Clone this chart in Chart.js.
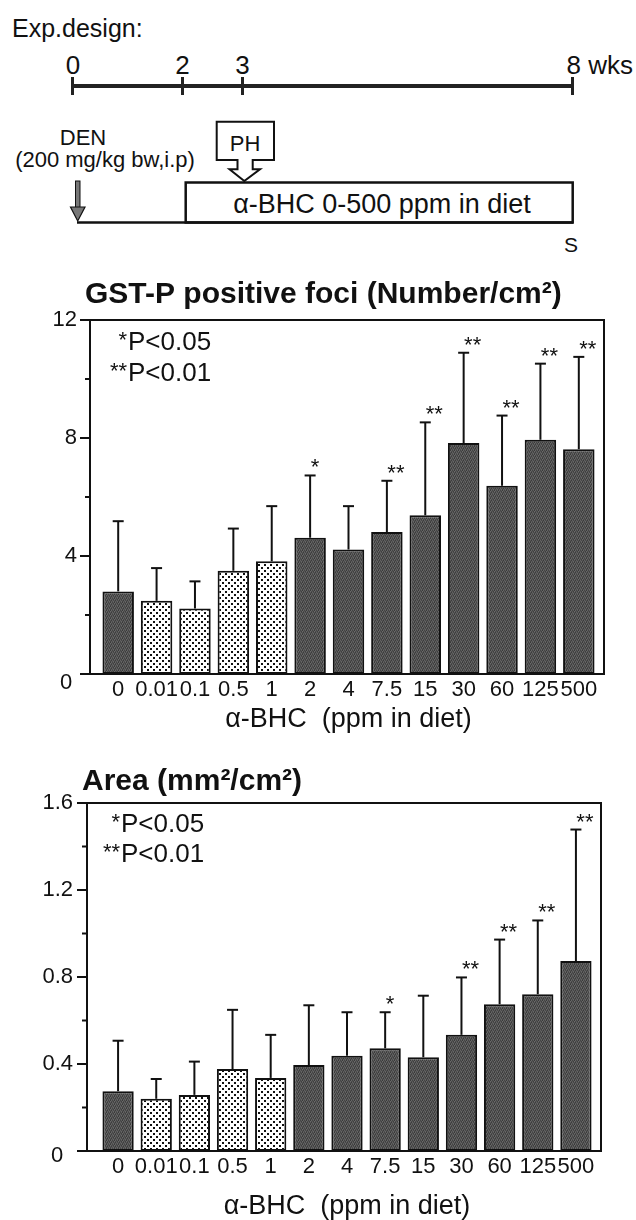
<!DOCTYPE html>
<html>
<head>
<meta charset="utf-8">
<script src="https://cdn.jsdelivr.net/npm/chart.js@4.4.0/dist/chart.umd.min.js"></script>
<style>
  html, body { margin: 0; padding: 0; background: #fff; }
  body { width: 636px; height: 1220px; overflow: hidden; position: relative;
         font-family: "Liberation Sans", Arial, Helvetica, sans-serif; color: #111; }
  #design { position: absolute; left: 0; top: 0; }
  #foci { position: absolute; left: 0; top: 270px; }
  #area { position: absolute; left: 0; top: 740px; }
</style>
</head>
<body>

<!-- experimental design sketch -->
<svg id="design" width="636" height="265" xmlns="http://www.w3.org/2000/svg"
     font-family="Liberation Sans, Arial, sans-serif" fill="#111">
  <text x="12" y="37" font-size="25">Exp.design:</text>

  <line x1="72" y1="86" x2="573" y2="86" stroke="#222" stroke-width="4"/>
  <g stroke="#222" stroke-width="3">
    <line x1="72.5" y1="77" x2="72.5" y2="95"/>
    <line x1="182.5" y1="77" x2="182.5" y2="95"/>
    <line x1="242.5" y1="77" x2="242.5" y2="95"/>
    <line x1="572.5" y1="77" x2="572.5" y2="95"/>
  </g>
  <g font-size="26" text-anchor="middle">
    <text x="73" y="74">0</text>
    <text x="182.5" y="74">2</text>
    <text x="242.5" y="74">3</text>
  </g>
  <text x="566.5" y="74" font-size="26">8 wks</text>

  <text x="83" y="145" font-size="22" text-anchor="middle">DEN</text>
  <text x="105" y="167" font-size="22" text-anchor="middle">(200 mg/kg bw,i.p)</text>

  <rect x="75.5" y="181" width="4.5" height="27" fill="#777" stroke="#111" stroke-width="1"/>
  <polygon points="70.5,207 85,207 77.7,221" fill="#777" stroke="#111" stroke-width="1.2"/>

  <line x1="77" y1="222.5" x2="573" y2="222.5" stroke="#111" stroke-width="2.5"/>
  <rect x="185.7" y="182.5" width="387" height="40" fill="none" stroke="#111" stroke-width="2.5"/>
  <text x="382" y="213" font-size="27" text-anchor="middle">α-BHC 0-500 ppm in diet</text>
  <text x="571" y="252" font-size="21" text-anchor="middle">S</text>

  <path d="M216.7,121.7 H274 V160 H252.7 V169.3 H260 L244.3,181 L229.5,169.3 H237.5 V160 H216.7 Z"
        fill="#fff" stroke="#111" stroke-width="2"/>
  <text x="245" y="151" font-size="22" text-anchor="middle">PH</text>
</svg>

<canvas id="foci" width="636" height="470"></canvas>
<canvas id="area" width="636" height="500"></canvas>

<script>
// dietary alpha-BHC doses (ppm)
const doses = ["0", "0.01", "0.1", "0.5", "1", "2", "4", "7.5", "15", "30", "60", "125", "500"];
const dottedDoses = ["0.01", "0.1", "0.5", "1"];

// GST-P positive foci, number/cm2 (mean, SD)
const fociMean = [2.80, 2.48, 2.22, 3.50, 3.82, 4.62, 4.22, 4.81, 5.38, 7.83, 6.38, 7.94, 7.62];
const fociSD   = [2.38, 1.11, 0.92, 1.43, 1.87, 2.11, 1.47, 1.74, 3.15, 3.06, 2.38, 2.58, 3.13];
const fociSig  = ["", "", "", "", "", "*", "", "**", "**", "**", "**", "**", "**"];
const fociMinor = [2, 6, 10];

// GST-P positive foci, area mm2/cm2 (mean, SD)
const areaMean = [0.275, 0.240, 0.258, 0.377, 0.336, 0.395, 0.438, 0.472, 0.431, 0.534, 0.675, 0.721, 0.873];
const areaSD   = [0.232, 0.091, 0.153, 0.272, 0.198, 0.275, 0.200, 0.166, 0.283, 0.264, 0.297, 0.339, 0.605];
const areaSig  = ["", "", "", "", "", "", "", "*", "", "**", "**", "**", "**"];
const areaMinor = [0.2, 0.6, 1.0, 1.4];

const FONT = "'Liberation Sans', Arial, Helvetica, sans-serif";
Chart.defaults.font.family = FONT;
Chart.defaults.color = "#111";

// fills: stippled dark grey and white with black dots
function tile(size, paint) {
  const c = document.createElement("canvas");
  c.width = c.height = size;
  const g = c.getContext("2d");
  paint(g);
  return g.createPattern(c, "repeat");
}
const darkFill = tile(4, g => {
  const shades = ["#444", "#5c5c5c", "#3a3a3a", "#666", "#555", "#3f3f3f", "#6a6a6a", "#4a4a4a",
                  "#626262", "#484848", "#575757", "#3c3c3c", "#4e4e4e", "#686868", "#414141", "#5a5a5a"];
  shades.forEach((s, k) => { g.fillStyle = s; g.fillRect(k % 4, k >> 2, 1, 1); });
});
const dotFill = tile(6, g => {
  g.fillStyle = "#fff"; g.fillRect(0, 0, 6, 6);
  g.fillStyle = "#111"; g.fillRect(0, 0, 2, 2); g.fillRect(3, 3, 2, 2);
});

// frame, tick marks, error bars, stars, title and p-value key
const framePlugin = {
  id: "frame",
  afterDatasetsDraw(chart, args, o) {
    const { ctx, chartArea: a, scales: { x, y } } = chart;
    const L = a.left - o.gapL, R = a.right + o.gapR;
    const T = y.getPixelForValue(y.max), B = y.getPixelForValue(0);
    const line = (x1, y1, x2, y2) => { ctx.beginPath(); ctx.moveTo(x1, y1); ctx.lineTo(x2, y2); ctx.stroke(); };

    ctx.save();
    ctx.strokeStyle = "#111";
    ctx.lineWidth = 2;
    ctx.strokeRect(L, T, R - L, B - T);
    y.ticks.forEach(t => { const py = y.getPixelForValue(t.value); line(L - 10, py, L, py); });
    o.minor.forEach(v => { const py = y.getPixelForValue(v); line(L - 5, py, L, py); });

    const means = chart.data.datasets[0].data;
    ctx.fillStyle = "#111";
    ctx.textAlign = "center";
    ctx.textBaseline = "alphabetic";
    ctx.font = "22px " + FONT;
    means.forEach((m, i) => {
      const px = x.getPixelForValue(i);
      const yb = y.getPixelForValue(m);
      const yt = y.getPixelForValue(m + o.sd[i]);
      line(px, yb, px, yt);
      line(px - 5.5, yt, px + 5.5, yt);
      if (o.sig[i]) ctx.fillText(o.sig[i], px + (o.sig[i].length > 1 ? 9 : 5), yt - 1);
    });

    // the zero label of the value axis sits a little off the tick in the original
    ctx.textBaseline = "middle";
    ctx.fillText("0", o.zeroX, B + o.zeroDy);

    ctx.textBaseline = "alphabetic";
    ctx.textAlign = "left";
    ctx.font = "bold 30px " + FONT;
    ctx.fillText(o.title, o.titleX, o.titleY);

    ctx.font = "26px " + FONT;
    ctx.fillText("P<0.05", o.keyX, o.keyY1);
    ctx.fillText("P<0.01", o.keyX, o.keyY2);
    ctx.textAlign = "right";
    ctx.font = "22px " + FONT;
    ctx.fillText("*", o.keyX - 1, o.keyY1 - 3);
    ctx.fillText("**", o.keyX - 1, o.keyY2 - 3);
    ctx.restore();
  }
};

function barChart(id, mean, cfg) {
  return new Chart(document.getElementById(id), {
    type: "bar",
    data: {
      labels: doses,
      datasets: [{
        data: mean,
        backgroundColor: doses.map(d => dottedDoses.includes(d) ? dotFill : darkFill),
        borderColor: "#111",
        borderWidth: 2,
        borderSkipped: false,
        barPercentage: 0.82,
        categoryPercentage: 1
      }]
    },
    options: {
      responsive: false,
      animation: false,
      devicePixelRatio: 1,
      layout: { padding: { top: cfg.padTop, right: cfg.padRight, left: 0, bottom: 0 } },
      plugins: {
        legend: { display: false },
        tooltip: { enabled: false },
        frame: cfg.frame
      },
      scales: {
        x: {
          grid: { display: false, drawTicks: false },
          border: { display: false },
          ticks: { autoSkip: false, maxRotation: 0, minRotation: 0, padding: 3, font: { size: 22 } },
          title: { display: true, text: "α-BHC  (ppm in diet)", font: { size: 27 },
                   padding: { top: 0, bottom: cfg.xTitlePad } },
          afterFit: s => { s.height = cfg.xHeight; }
        },
        y: {
          min: 0,
          max: cfg.yMax,
          grid: { display: false, drawTicks: false },
          border: { display: false },
          ticks: { stepSize: cfg.yStep, padding: cfg.yPad, font: { size: 22 },
                   callback: v => v === 0 ? "" : String(Math.round(v * 10) / 10) },
          afterFit: s => { s.width = cfg.yWidth; }
        }
      }
    },
    plugins: [framePlugin]
  });
}

barChart("foci", fociMean, {
  yMax: 12, yStep: 4, yWidth: 99, yPad: 22, padTop: 50, padRight: 38, xHeight: 66, xTitlePad: 4,
  frame: { gapL: 9, gapR: 6, minor: fociMinor, sd: fociSD, sig: fociSig,
           title: "GST-P positive foci (Number/cm²)", titleX: 85, titleY: 33,
           keyX: 128, keyY1: 80, keyY2: 111, zeroX: 66, zeroDy: 9 }
});

barChart("area", areaMean, {
  yMax: 1.6, yStep: 0.4, yWidth: 99, yPad: 26, padTop: 63, padRight: 41, xHeight: 89, xTitlePad: 17,
  frame: { gapL: 12, gapR: 6, minor: areaMinor, sd: areaSD, sig: areaSig,
           title: "Area (mm²/cm²)", titleX: 82, titleY: 50,
           keyX: 121, keyY1: 92, keyY2: 122, zeroX: 57, zeroDy: 5 }
});
</script>
</body>
</html>
